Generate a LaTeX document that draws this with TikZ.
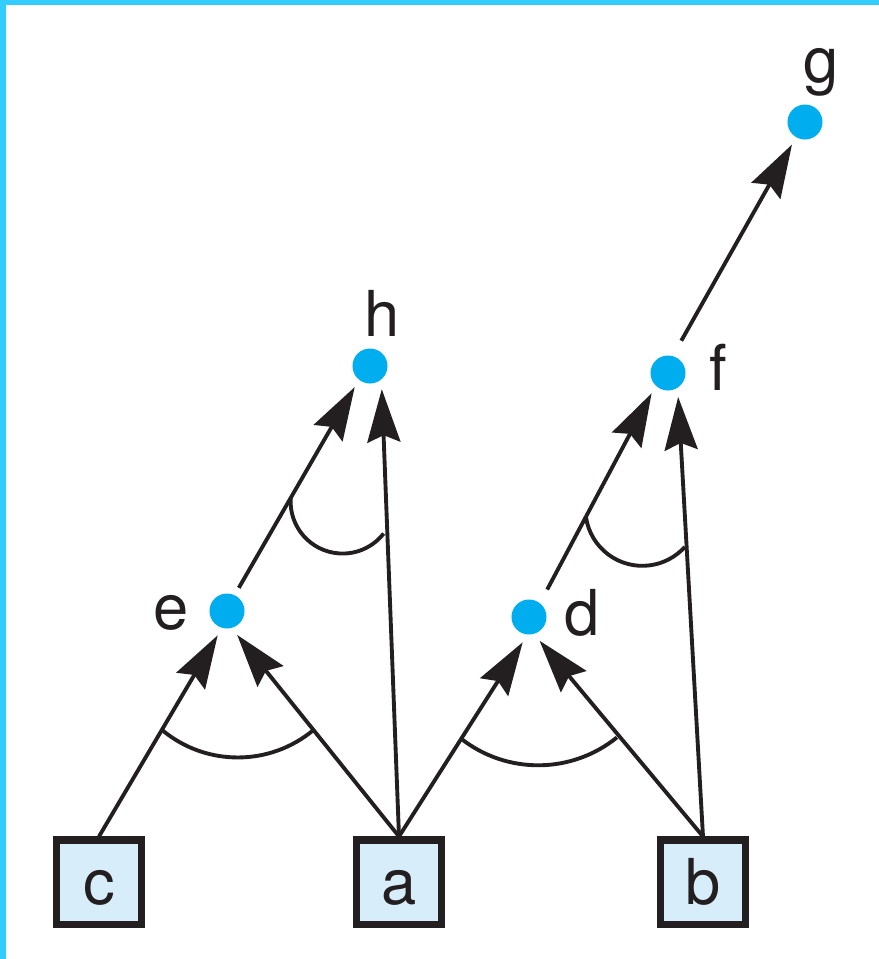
\documentclass[tikz,border=0pt]{standalone}
\usepackage{fontspec}
\setmainfont{TeX Gyre Heros}
\usetikzlibrary{arrows.meta, calc}

\definecolor{dotblue}{HTML}{00AEEF}
\definecolor{boxblue}{HTML}{D7EEFA}
\definecolor{barblue}{HTML}{33CCFF}
\definecolor{ink}{HTML}{231F20}

\begin{document}
\begin{tikzpicture}[
    x=0.01cm, y=-0.01cm,
    >={Stealth[length=5.3mm, width=3.3mm, inset=0.7mm]},
    every node/.style={font=\fontsize{18}{20}\selectfont, text=ink},
    leaf/.style={rectangle, draw=ink, line width=2pt, fill=boxblue, minimum size=0.84cm, inner sep=0pt, text height=12.9pt, text depth=0pt},
    goal/.style={circle, fill=dotblue, minimum size=0.35cm, inner sep=0pt, outer sep=0.085cm},
    tag/.style={anchor=base, inner sep=0pt},
    link/.style={->, draw=ink, line width=1.1pt},
    andarc/.style={draw=ink, line width=1.1pt}
]
\useasboundingbox (0,0) rectangle (879,959);
% Frame bars (top and left)
\fill[barblue] (0,0) rectangle (879,5);
\fill[barblue] (0,0) rectangle (6,959);

% Leaves: c, a, b
\node[leaf] (c) at (99,882) {c};
\node[leaf] (a) at (399,882) {a};
\node[leaf] (b) at (703,882) {b};

% Derived points
\node[goal] (e) at (227,611) {};
\node[goal] (d) at (529,617) {};
\node[goal] (h) at (370,366) {};
\node[goal] (f) at (668,373) {};
\node[goal] (g) at (805,122) {};

% Point labels
\node[tag] at (171,629) {e};
\node[tag] at (582,635) {d};
\node[tag] at (382,336) {h};
\node[tag] at (718,390) {f};
\node[tag] at (821,82) {g};

% Arrows into e and d
\draw[link] (c.north) -- (e.-111);
\draw[link] (a.north) -- (e.-67);
\draw[link] (a.north) -- (d.-104);
\draw[link] (b.north) -- (d.-66);

% Arrows into h, f and g
\draw[link] (e.63) -- (h.-126);
\draw[link] (a.north) -- (h.-63);
\draw[link, shorten <=0.07cm] (d.55) -- (f.-129);
\draw[link] (b.north) -- (f.-67);
\draw[link, shorten <=0.09cm] (f.70) -- (g.-120);

% AND arcs
\coordinate (eArc) at ($(c.north)!0.53!(e.-111)$);
\coordinate (dArc) at ($(a.north)!0.503!(d.-104)$);
\coordinate (hArc) at ($(e.63)!0.448!(h.-126)$);
\coordinate (fArc) at ($(d.55)!0.39!(f.-129)$);
\draw[andarc] (eArc) arc[start angle=230, end angle=310, radius=1.18cm];
\draw[andarc] (dArc) arc[start angle=232, end angle=309, radius=1.25cm];
\draw[andarc] (hArc) arc[start angle=176, end angle=322, radius=0.52cm];
\draw[andarc] (fArc) arc[start angle=188, end angle=318, radius=0.57cm];
\end{tikzpicture}
\end{document}
